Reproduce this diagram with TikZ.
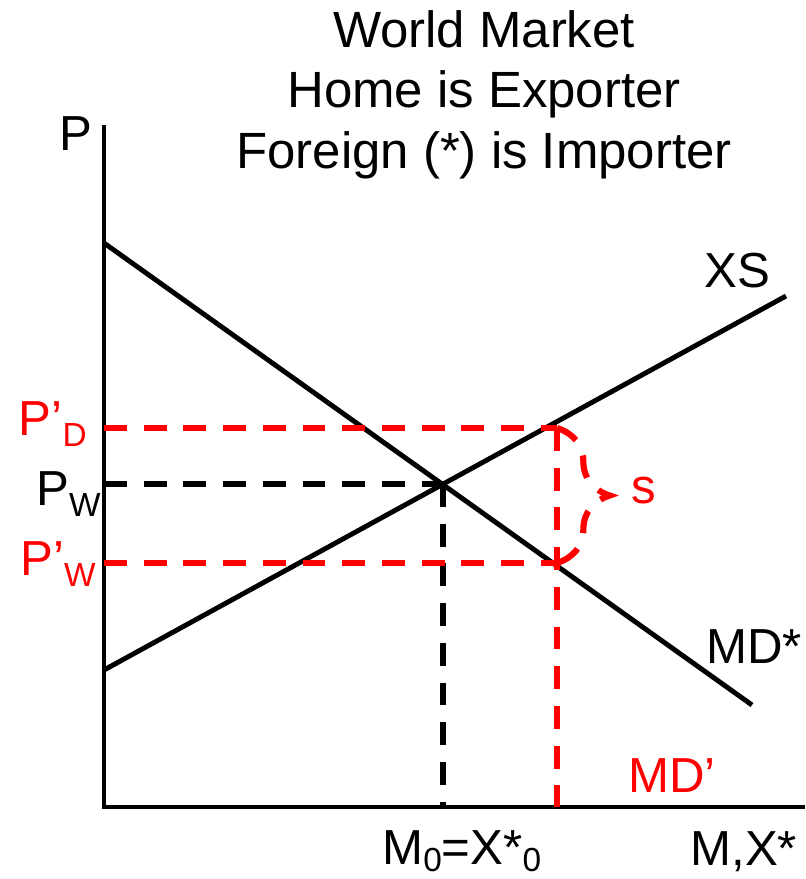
\documentclass[tikz,border=0pt]{standalone}
\usepackage{fontspec}
\setmainfont{Liberation Sans}
\usetikzlibrary{positioning,decorations.pathreplacing}

\newcommand{\lblfont}{\fontsize{28}{34}\selectfont}
\newcommand{\subtx}[2][6.5pt]{\raisebox{-#1}{\fontsize{19}{19}\selectfont #2}}

\begin{document}
\begin{tikzpicture}[
    x=0.02cm, y=-0.02cm,
    axis/.style={line width=2.8pt},
    curve/.style={line width=2.8pt},
    guide/.style={line width=3.5pt, dash pattern=on 13pt off 9.6pt},
    redguide/.style={guide, red},
    lbl/.style={inner sep=0pt, font=\lblfont},
    ttl/.style={inner sep=0pt, font=\fontsize{29}{34}\selectfont}
]
\useasboundingbox (0,0) rectangle (805,879);

% axes
\coordinate (O) at (104,807);
\coordinate (Ptop) at (104,125);
\coordinate (Qend) at (805,807);
\draw[axis] (Ptop) -- (O) -- (Qend);

% curves
\coordinate (MDa) at (104,243);
\coordinate (MDb) at (752,705);
\coordinate (XSa) at (104,670);
\coordinate (XSb) at (786,296);
\draw[curve] (MDa) -- (MDb);
\draw[curve] (XSa) -- (XSb);

% equilibrium and tariff points
\coordinate (E) at (443,484);
\coordinate (D1) at (557,428);
\coordinate (W1) at (557,563);

\draw[guide] (O |- E) -- (E);
\draw[guide] (E) -- (E |- O);
\draw[redguide] (O |- D1) -- (D1);
\draw[redguide] (D1) -- (D1 |- O);
\draw[redguide] (O |- W1) -- (W1);
\draw[redguide, decorate, decoration={brace, amplitude=30pt}] (D1) -- (W1);

% title
\node[ttl, anchor=base] (T1) at (484,47) {World Market};
\node[ttl, anchor=base] (T2) at (484,107) {Home is Exporter};
\node[ttl, anchor=base] (T3) at (484,168) {Foreign (*) is Importer};

% labels
\node[lbl, anchor=base west] (Plab) at (59,150) {P};
\node[lbl, red, anchor=base east] (PDlab) at (87,435) {P’\subtx{D}};
\node[lbl, anchor=base east] (PWlab) at (101,505) {P\subtx{W}};
\node[lbl, red, anchor=base east] (PWplab) at (96,575) {P’\subtx{W}};
\node[lbl, anchor=base west] (XSlab) at (704,287) {XS};
\node[lbl, anchor=base west] (MDlab) at (706,663) {MD*};
\node[lbl, red, anchor=base west] (MDplab) at (628,792) {MD’};
\node[lbl, red, anchor=base west] (slab) at (631,503) {s};
\node[lbl, anchor=base west] (M0lab) at (382,864) {M\subtx[4.5pt]{0}=X*\subtx[4.5pt]{0}};
\node[lbl, anchor=base west] (Qlab) at (690,865) {M,X*};
\end{tikzpicture}
\end{document}
